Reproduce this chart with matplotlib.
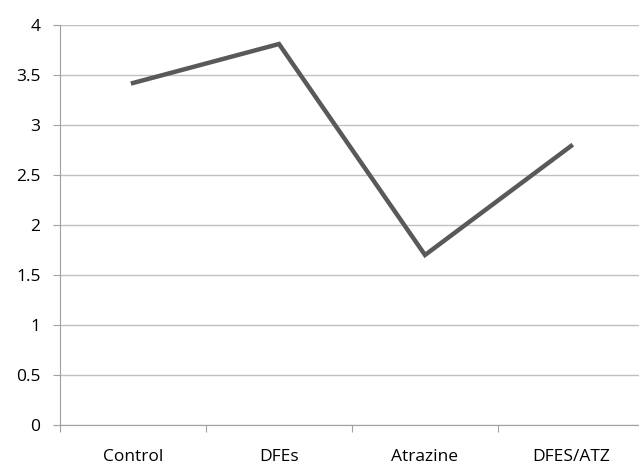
import matplotlib
matplotlib.use("Agg")
import matplotlib.pyplot as plt
import numpy as np

categories = ["Control", "DFEs", "Atrazine", "DFES/ATZ"]
values = [3.42, 3.81, 1.70, 2.79]
yticks = [0, 0.5, 1, 1.5, 2, 2.5, 3, 3.5, 4]
ytick_labels = ["0", "0.5", "1", "1.5", "2", "2.5", "3", "3.5", "4"]

plt.rcParams['font.family'] = ['Open Sans', 'DejaVu Sans']

fig = plt.figure(figsize=(6.39, 4.67), dpi=100)
ax = fig.add_axes([60/639, 42/467, 584/639, 400/467])

x = np.arange(len(categories)) + 0.5
ax.plot(x, values, color="#595959", lw=3.2, solid_joinstyle="miter", zorder=3)

ax.set_xlim(0, len(categories))
ax.set_ylim(0, 4)
ax.set_yticks(yticks)
ax.set_yticklabels(ytick_labels, fontsize=12.5)
ax.yaxis.grid(True, color="#c0c0c0", lw=1.0)
ax.set_axisbelow(True)

ax.set_xticks(np.arange(0, len(categories) + 1))
ax.set_xticklabels([])
ax.set_xticks(x, minor=True)
ax.set_xticklabels(categories, minor=True, fontsize=12.5)
ax.tick_params(axis="x", which="minor", length=0, pad=17.5)
ax.tick_params(axis="x", which="major", length=5, color="#a0a0a0", direction="out")
ax.tick_params(axis="y", length=5, color="#a0a0a0", direction="out", pad=9)

for s in ["top", "right"]:
    ax.spines[s].set_visible(False)
for s in ["left", "bottom"]:
    ax.spines[s].set_color("#a0a0a0")

fig.savefig("out.png", dpi=100)
